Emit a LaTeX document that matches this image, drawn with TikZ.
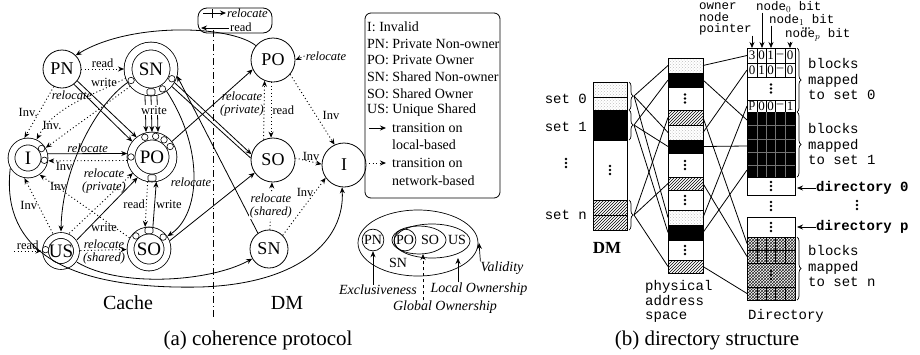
\documentclass[tikz,border=0pt]{standalone}
\usepackage{fontspec}
\setmainfont{Liberation Serif}
\setmonofont{Liberation Mono}
\usetikzlibrary{arrows.meta,patterns,decorations.pathreplacing,calc}

\tikzset{
  cst/.style={circle, draw, double, double distance=#1, line width=0.8pt, inner sep=0pt, outer sep=4pt, font=\fontsize{19}{19}\selectfont},
  cst/.default=6pt,
  dst/.style={circle, draw, line width=0.8pt, inner sep=0pt, font=\fontsize{18}{18}\selectfont},
  port/.style={circle, draw, fill=white, line width=0.6pt, inner sep=0pt, minimum size=6.5pt},
  pbox/.style={rectangle, rounded corners=1.5pt, draw, fill=white, line width=0.6pt, inner sep=0pt, minimum width=8pt, minimum height=6.5pt},
  loc/.style={->, line width=0.8pt},
  net/.style={->, line width=0.9pt, dash pattern=on 1pt off 2.5pt},
  lab/.style={font=\fontsize{12.5}{12.5}\selectfont, inner sep=1pt},
  ilab/.style={font=\fontsize{12.5}{13}\selectfont\itshape, inner sep=1pt, align=center},
  kt/.style={font=\fontsize{14}{14}\selectfont, anchor=west, inner sep=0pt},
  vc/.style={circle, draw, line width=0.7pt, inner sep=0.6pt, font=\fontsize{14}{14}\selectfont},
  vt/.style={inner sep=0pt, font=\fontsize{14}{14}\selectfont},
  vi/.style={inner sep=0pt, font=\fontsize{14}{14}\selectfont\itshape},
  mono/.style={inner sep=0pt, align=left, font=\fontsize{14}{15.5}\selectfont\ttfamily},
  tmono/.style={inner sep=0pt, align=left, font=\fontsize{12.5}{11.5}\selectfont\ttfamily},
  cell/.style={inner sep=0pt, font=\fontsize{13}{13}\selectfont},
  dotblk/.style={draw, pattern=crosshatch dots, pattern color=black!25},
  blkblk/.style={draw, fill=black},
  whtblk/.style={draw, fill=white},
  hatblk/.style={draw, pattern=north east lines},
  dhatblk/.style={draw, pattern=crosshatch, pattern color=black!85},
  brc/.style={decorate, decoration={brace, amplitude=4pt}, line width=0.7pt}
}

\begin{document}
\begin{tikzpicture}[x=1pt, y=-1pt, >={Stealth[length=6pt, width=5pt]}]
\useasboundingbox (0,0) rectangle (920,354);

\node[cst=7pt, minimum size=46pt] (cSN) at (151,69) {SN};
\node[dst, minimum size=38pt] (cPN) at (62,69) {PN};
\node[cst, minimum size=33pt] (cI) at (28,158) {I};
\node[cst=7pt, minimum size=42pt] (cPO) at (152,157) {PO};
\node[cst=5pt, minimum size=31pt] (cUS) at (61,251) {US};
\node[cst, minimum size=37pt] (cSO) at (149,249) {SO};

\node[dst, minimum size=44pt] (dPO) at (273,60) {PO};
\node[dst, minimum size=44pt] (dSO) at (273,160) {SO};
\node[dst, minimum size=44pt] (dI) at (344,165) {I};
\node[dst, minimum size=38pt] (dSN) at (269,249) {SN};

\coordinate (dvT) at (213,30);
\coordinate (dvB) at (213,318);
\draw[line width=0.6pt, dash pattern=on 7pt off 3pt on 1pt off 3pt] (dvT) -- (dvB);

\node[draw, line width=0.8pt, rounded corners=9pt, minimum width=74pt, minimum height=25pt] (rbox) at (235,20.5) {};
\draw[loc] (203,13) -- (226,13);
\draw[line width=0.6pt] (212,9) -- (212,18);
\node[ilab, anchor=west] at (226,13) {relocate};
\draw[loc] (229,28) -- (201,28);
\node[lab, anchor=west] at (229,27) {read};

% cache side
\draw[net] (cPN) -- (cSN) node[lab, midway, above] {read};
\draw[loc] (cPN.-38) -- (cPO.128);
\draw[loc] (cPN.-52) -- (cPO.142);
\node[lab] at (104,82) {write};
\draw[net] (cPN.-115) -- (cI.100) node[lab, midway, left] {Inv.};
\draw[net] (cSN.-160) .. controls (95,95) and (55,105) .. (cI.65);
\node[ilab] at (72,95) {relocate};
\draw[net] (cSN.-140) -- (cI.30);
\node[lab] at (52,125) {Inv.};
\draw[loc] (cI.12) -- (cPO.172) node[ilab, midway, above] {relocate};
\draw[net] (cPO.188) -- (cI.-8) node[lab, pos=0.8, below] {Inv};
\draw[net] (cUS.65) -- (cPO.-140);
\node[ilab] at (104,181) {relocate\\(private)};
\draw[loc] (cUS.35) -- (cPO.-125);
\node[lab] at (104,227) {write};
\draw[net] (cUS) -- (cSO);
\node[ilab] at (104,252) {relocate\\(shared)};
\draw[net] (cPO.-100) -- (cSO.100) node[lab, midway, left] {read};
\draw[loc] (cSO.80) -- (cPO.-80) node[lab, midway, right] {write};
\foreach \dx in {-6,0,6}
  \draw[loc] ($(cSN.south)+(\dx,0)$) -- ($(cPO.north)+(\dx,0)$);
\node[lab, fill=white, inner sep=0.5pt] at (154,110) {write};
\draw[loc] (cSN.-55) .. controls (205,150) and (200,215) .. (cSO.35);
\node[ilab] at (191,182) {relocate};
\draw[loc] (cSN.-150) .. controls (95,105) and (62,170) .. (cUS.north);
\coordinate (rin) at (14,251);
\draw[net] (rin) -- (cUS) node[lab, midway, above] {read};
\draw[net] (cUS.115) -- (cI.-100) node[lab, midway, left] {Inv};
\draw[net] (cSO.150) -- (cI.-55) node[lab, pos=0.9, below right] {Inv};
\draw[loc] (cI.-150) .. controls (2,240) and (50,290) .. (200,287) .. controls (300,284) and (345,240) .. (dI.-95);
\draw[loc] (cUS.-35) .. controls (120,288) and (210,282) .. (dSN.-150);

% cache to DM
\draw[loc] (cPO.38) -- (dPO.-155);
\draw[loc] (cSN.-30) -- (dSO.165);
\draw[line width=0.8pt] (cSN.-40) -- (dSO.175);
\draw[loc] (dSN.125) -- (cSN.-15);
\draw[loc] (cSO.22) -- (dSO.-145);
\draw[loc] (dPO.140) .. controls (230,25) and (130,22) .. (cPN.45);

% DM side
\node[ilab] (rlc) at (326,56) {relocate};
\draw[net] (rlc.west) -- (dPO.0);
\draw[net] (dPO.-95) -- (dSO.95) node[lab, midway, right] {read};
\draw[net] (dSO.115) -- (dPO.-112);
\node[ilab] at (242,104) {relocate\\(private)};
\draw[net] (dPO.-40) -- (dI.115);
\node[lab] at (331,115) {Inv};
\draw[net] (dSO.5) -- (dI.178) node[lab, pos=0.6, above] {Inv};
\draw[net] (dSN.45) -- (dI.-145) node[lab, pos=0.75, left] {Inv};
\draw[net] (dSN) -- (dSO) node[ilab, midway, fill=white] {relocate\\(shared)};

\foreach \a in {-150,-60,-25} \node[port] at ($(cSN)+(\a:23pt)$) {};
\node[pbox] at ($(cSN)+(-90:23pt)$) {};
\foreach \a in {110,80,55,30,180} \node[port] at ($(cPO)+(\a:21pt)$) {};
\node[pbox] at ($(cPO)+(-90:21pt)$) {};
\foreach \a in {135,40} \node[port] at ($(cSO)+(\a:18.5pt)$) {};
\node[pbox] at ($(cSO)+(90:18.5pt)$) {};
\foreach \a in {35,-8} \node[port] at ($(cI)+(\a:16.5pt)$) {};
\node[port] at ($(cUS)+(175:15.5pt)$) {};

\node[font=\fontsize{20}{20}\selectfont] (cch) at (128,303) {Cache};
\node[font=\fontsize{20}{20}\selectfont] (dmm) at (287,303) {DM};

% key
\node[draw, line width=0.8pt, rounded corners=6pt, minimum width=135pt, minimum height=185pt] (key) at (432.5,105.5) {};
\foreach \t [count=\i] in {I: Invalid, PN: Private Non-owner, PO: Private Owner, SN: Shared Non-owner, SO: Shared Owner, US: Unique Shared}
  \node[kt] at (367,{27+(\i-1)*16.6}) {\t};
\draw[loc] (369,128) -- (386,128);
\node[kt] at (392,128) {transition on};
\node[kt] at (392,145) {local-based};
\draw[net] (369,163) -- (386,163);
\node[kt] at (392,163) {transition on};
\node[kt] at (392,181) {network-based};

% venn
\node[vc] (vPN) at (373,240) {PN};
\node[vc] (vPO) at (405,240) {PO};
\node[vt] (vSO) at (430,240) {SO};
\node[vt] (vUS) at (457,240) {US};
\node[vt] (vSN) at (398,263) {SN};
\draw[line width=0.7pt] (419,240) ellipse (27 and 14);
\draw[line width=0.7pt] (432,241) ellipse (38 and 17);
\draw[line width=0.7pt] (418,243) ellipse (60 and 33);
\node[vi] (exl) at (378,290) {Exclusiveness};
\node[vi] (lol) at (479,289) {Local Ownership};
\node[vi] (gol) at (445,307) {Global Ownership};
\node[vi] (val) at (502,268) {Validity};
\coordinate (go) at (423,254);
\coordinate (lo) at (458,258);
\coordinate (va) at (479,243);
\draw[->, line width=0.7pt] (vPN.south |- exl.north) -- (vPN.south);
\draw[->, line width=0.7pt, dashed] (go |- gol.north) -- (go);
\draw[->, line width=0.7pt] (lo |- lol.north) -- (lo);
\draw[->, line width=0.7pt] (val.north west) -- (va);

\node[font=\fontsize{21}{21}\selectfont] (capa) at (258,340) {(a) coherence protocol};

% DM array
\foreach \ya/\yb/\s in {82/97/dotblk, 97/110/dotblk, 110/125/blkblk, 125/140/blkblk, 140/200/whtblk, 200/215/hatblk, 215/230/hatblk}
  \draw[\s, line width=0.8pt] (593,\ya) rectangle (627,\yb);
\draw[line width=1pt] (593,82) rectangle (627,230);
\draw[brc] (629,82) -- (629,110);
\draw[brc] (629,110) -- (629,140);
\draw[brc] (629,200) -- (629,230);
\coordinate (b0) at (634,96);
\coordinate (b1) at (634,125);
\coordinate (bn) at (634,215);
\node[mono, anchor=east] at (587,99) {set 0};
\node[mono, anchor=east] at (587,127) {set 1};
\node[mono, anchor=east] at (587,215) {set n};
\node[font=\fontsize{17}{17}\selectfont\bfseries] (dmr) at (607,248) {DM};

% physical address space
\foreach \ya/\yb/\s [count=\i] in {58/73/dotblk, 73/87/blkblk, 87/110/whtblk, 110/125/hatblk, 125/140/dotblk, 140/153/blkblk, 153/177/whtblk, 177/190/hatblk, 190/210/whtblk, 210/225/dotblk, 225/240/blkblk, 240/260/whtblk, 260/273/hatblk}{
  \draw[\s, line width=0.8pt] (668,\ya) rectangle (703,\yb);
  \coordinate (pl\i) at (668,{(\ya+\yb)/2});
  \coordinate (pr\i) at (703,{(\ya+\yb)/2});
}
\draw[line width=1pt] (668,58) rectangle (703,273);
\node[mono, anchor=west, font=\fontsize{14}{14.5}\selectfont\ttfamily] at (645,301.5) {physical\\address\\space};

% directory
\foreach \ya/\yb/\s in {48/63/whtblk, 63/77/whtblk, 77/100/whtblk, 100/112/whtblk, 112/177/blkblk, 177/195/whtblk, 217/237/whtblk, 237/300/dhatblk}
  \draw[\s, line width=0.8pt] (747,\ya) rectangle (795,\yb);
\foreach \x in {757,766,775,785} {
  \draw[line width=0.5pt] (\x,48) -- (\x,77);
  \draw[line width=0.5pt] (\x,100) -- (\x,112);
  \draw[black!55, line width=0.4pt] (\x,112) -- (\x,177);
  \draw[line width=0.5pt] (\x,237) -- (\x,263);
  \draw[line width=0.5pt] (\x,287) -- (\x,300);
}
\foreach \y in {125,139,152,165} \draw[black!55, line width=0.4pt] (747,\y) -- (795,\y);
\foreach \y in {250,263,287} \draw[line width=0.5pt] (747,\y) -- (795,\y);
\draw[line width=1pt] (747,48) rectangle (795,195);
\draw[line width=1pt] (747,217) rectangle (795,300);
\foreach \x/\a/\b/\c in {752/3/0/p, 761.5/0/1/0, 770.5/1/0/0, 780/–/–/–, 790/0/0/1} {
  \node[cell] at (\x,55.5) {\a};
  \node[cell] at (\x,70) {\b};
  \node[cell] at (\x,106) {\c};
}
\foreach \p in {(610,170), (685,98.5), (685,165), (685,200), (685,250), (771,88.5), (771,186), (771,206), (771,227), (771,275), (857,205), (566,163)}
  \foreach \k in {-4,0,4} \fill \p ++(0,\k) circle (1.3pt);

\coordinate (dl1) at (747,55.5);
\coordinate (dl2) at (747,70);
\coordinate (dl4) at (747,106);
\coordinate (dk1) at (747,120);
\coordinate (dk2) at (747,146);
\coordinate (dk3) at (747,170);
\coordinate (dh1) at (747,243.5);
\coordinate (dh2) at (747,256.5);
\coordinate (dh4) at (747,293.5);
\foreach \a/\b in {b0/pl1, b0/pl5, b0/pl10, b1/pl2, b1/pl6, b1/pl11, bn/pl4, bn/pl8, bn/pl13}
  \draw[line width=0.8pt] (\a) -- (\b);
\foreach \a/\b in {pr1/dl1, pr5/dl2, pr10/dl4, pr2/dk1, pr6/dk2, pr11/dk3, pr4/dh1, pr8/dh2, pr13/dh4}
  \draw[line width=0.8pt] (\a) -- (\b);

\draw[brc] (797,48) -- (797,112);
\draw[brc] (797,112) -- (797,177);
\draw[brc] (797,237) -- (797,300);
\node[mono, anchor=west] at (808,79) {blocks\\mapped\\to set 0};
\node[mono, anchor=west] at (808,144) {blocks\\mapped\\to set 1};
\node[mono, anchor=west] at (808,266) {blocks\\mapped\\to set n};
\coordinate (dd0) at (797,188);
\coordinate (ddp) at (797,227);
\node[mono, anchor=west, font=\fontsize{14}{14}\selectfont\ttfamily\bfseries] (dir0) at (816,188) {directory 0};
\node[mono, anchor=west, font=\fontsize{14}{14}\selectfont\ttfamily\bfseries] (dirp) at (816,227) {directory p};
\draw[->, line width=0.8pt] (dir0.west) -- (dd0);
\draw[->, line width=0.8pt] (dirp.west) -- (ddp);
\node[mono] (dirl) at (786,316) {Directory};

\node[tmono, anchor=north west] (own) at (699,3) {owner\\node\\pointer};
\node[tmono, anchor=west] (nz) at (756,7) {node$_0$ bit};
\node[tmono, anchor=west] (no) at (769,20) {node$_1$ bit};
\node[tmono, anchor=west] (np) at (785,35) {node$_p$ bit};
\foreach \k in {-3,0,3} \fill (806+\k,28) circle (0.8pt);
\coordinate (t1) at (752,48);
\coordinate (t2) at (762,48);
\coordinate (t3) at (771,48);
\coordinate (t4) at (790,48);
\draw[->, line width=0.7pt] (t1 |- own.south) -- (t1);
\draw[->, line width=0.7pt] (t2 |- nz.south) -- (t2);
\draw[->, line width=0.7pt] (t3 |- no.south) -- (t3);
\draw[->, line width=0.7pt] (t4 |- np.south) -- (t4);

\node[font=\fontsize{21}{21}\selectfont] (capb) at (707,340) {(b) directory structure};
\end{tikzpicture}
\end{document}
